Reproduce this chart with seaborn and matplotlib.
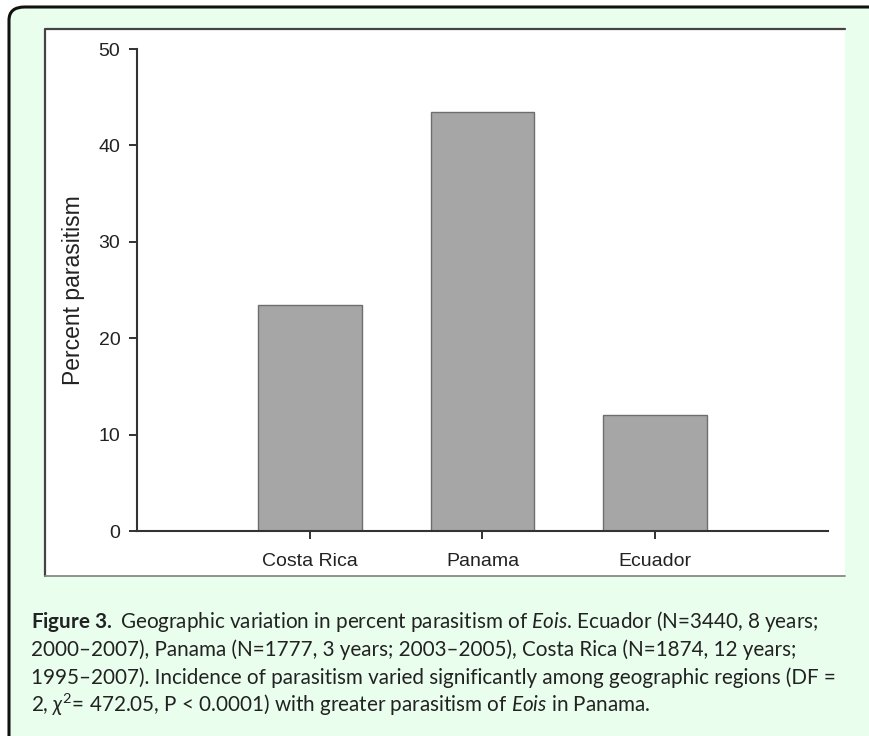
import matplotlib
matplotlib.use("Agg")
import matplotlib.pyplot as plt
from matplotlib.patches import FancyBboxPatch, Rectangle
from matplotlib.lines import Line2D
import seaborn as sns
import pandas as pd

# data
regions = ["Costa Rica", "Panama", "Ecuador"]
percent_parasitism = [23.4, 43.5, 12.0]
y_ticks = [0, 10, 20, 30, 40, 50]

caption_lines = [
    r"$\bf{Figure\ 3.}\ $Geographic variation in percent parasitism of $\it{Eois}$. Ecuador (N=3440, 8 years;",
    "2000\u20132007), Panama (N=1777, 3 years; 2003\u20132005), Costa Rica (N=1874, 12 years;",
    "1995\u20132007). Incidence of parasitism varied significantly among geographic regions (DF =",
    r"2, $\chi^2$= 472.05, P < 0.0001) with greater parasitism of $\it{Eois}$ in Panama.",
]

sns.set_style("ticks")
plt.rcParams["font.family"] = ["Liberation Sans", "DejaVu Sans"]
plt.rcParams["mathtext.fontset"] = "custom"
plt.rcParams["mathtext.rm"] = "Lato"
plt.rcParams["mathtext.it"] = "Lato:italic"
plt.rcParams["mathtext.bf"] = "Lato:bold"
plt.rcParams["mathtext.fallback"] = "stixsans"

W, H = 870, 736
fig = plt.figure(figsize=(W / 100, H / 100), dpi=100, facecolor="white")


def px(x, y):
    # pixel coords (top-left origin) -> figure fraction
    return x / W, 1 - y / H


# green outer box with rounded corner
x0, y0 = px(9, 7)
box = FancyBboxPatch((x0, -0.1), 1.2, y0 + 0.1, boxstyle="round,pad=0,rounding_size=0.018",
                     transform=fig.transFigure, facecolor="#EAFEEE", edgecolor="#111111",
                     linewidth=2.2, zorder=0)
fig.patches.append(box)

# white panel behind the chart
lx, ty = px(45, 29)
rx, by = px(845, 576)
fig.patches.append(Rectangle((lx, by), rx - lx, ty - by, transform=fig.transFigure,
                             facecolor="white", edgecolor="none", zorder=1))
fig.lines.append(Line2D([lx, lx, rx], [by, ty, ty], transform=fig.transFigure,
                        color="#444444", linewidth=1.6, zorder=2))
fig.lines.append(Line2D([lx, rx], [by, by], transform=fig.transFigure,
                        color="#888888", linewidth=1.3, zorder=2))

# chart axes
ax = fig.add_axes([137 / W, 1 - 531 / H, (828 - 137) / W, (531 - 49) / H])
ax.set_facecolor("none")
ax.set_zorder(3)

df = pd.DataFrame({"region": regions, "pct": percent_parasitism})
sns.barplot(data=df, x="region", y="pct", color="#A6A6A6", width=0.6,
            edgecolor="#6E6E6E", linewidth=1.0, saturation=1, ax=ax)

ax.set_xlim(-1, 3)
ax.set_ylim(0, 50)
ax.set_yticks(y_ticks)
ax.set_xlabel("")
ax.set_ylabel("Percent parasitism", fontsize=16.5, color="#222222", labelpad=10)
ax.tick_params(axis="both", labelsize=14, colors="#222222", length=6, width=1.3)
ax.tick_params(axis="x", pad=10)
ax.tick_params(axis="y", pad=6)
sns.despine(ax=ax)
for side in ["left", "bottom"]:
    ax.spines[side].set_linewidth(1.5)
    ax.spines[side].set_color("#333333")

# caption
baselines = [628, 656, 684, 712]
for line, yb in zip(caption_lines, baselines):
    tx, tyy = px(31, yb)
    fig.text(tx, tyy, line, fontsize=14.9, family=["Lato", "DejaVu Sans"],
             color="#222222", va="baseline", ha="left", zorder=4)

fig.savefig("out.png", dpi=100, facecolor="white")
